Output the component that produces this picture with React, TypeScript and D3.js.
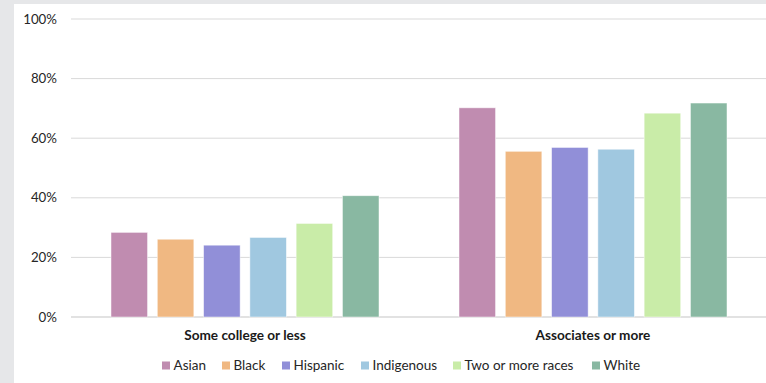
import React from "react";
import * as d3 from "d3";

const categories = ["Some college or less", "Associates or more"];
const seriesNames = ["Asian", "Black", "Hispanic", "Indigenous", "Two or more races", "White"];
const seriesColors = ["#c08cb0", "#f0b882", "#918fd8", "#a0c8e0", "#c9eca8", "#89b8a2"];
const asian = [28.4, 70.2];
const black = [26.1, 55.6];
const hispanic = [24.1, 56.9];
const indigenous = [26.7, 56.3];
const twoOrMore = [31.4, 68.4];
const white = [40.7, 71.8];
const seriesValues = [asian, black, hispanic, indigenous, twoOrMore, white];
const yTicks = [0, 20, 40, 60, 80, 100];

const W = 766;
const H = 383;
const FONT = "Lato, 'Open Sans', sans-serif";

export default function App() {
  const left = 71;
  const right = 767;
  const top = 19;
  const bottom = 317;

  const x0 = d3.scaleBand<string>().domain(categories).range([left, right]).paddingInner(0).paddingOuter(0);
  const x1 = d3
    .scaleBand<string>()
    .domain(seriesNames)
    .range([40, x0.bandwidth() - 40])
    .paddingInner(0.21)
    .paddingOuter(0);
  const y = d3.scaleLinear().domain([0, 100]).range([bottom, top]);

  const legendX = [162, 222, 282, 361, 453, 592];

  return (
    <svg
      width={W}
      height={H}
      style={{ position: "absolute", left: 0, top: 0, display: "block" }}
      fontFamily={FONT}
    >
      <rect x={0} y={0} width={W} height={H} fill="#e6e7e9" />
      <rect x={14} y={4} width={W - 14} height={H - 4} fill="#ffffff" />
      {yTicks.map((t) => (
        <g key={t}>
          <line
            x1={left}
            x2={right}
            y1={y(t)}
            y2={y(t)}
            stroke="#d9d9d9"
            strokeWidth={t === 0 ? 1.3 : 1}
          />
          <text x={57} y={y(t)} dy="0.35em" textAnchor="end" fontSize={13.3} fill="#262626">
            {t}%
          </text>
        </g>
      ))}
      {categories.map((c, ci) => (
        <g key={c}>
          {seriesNames.map((s, si) => {
            const v = seriesValues[si][ci];
            const bx = (x0(c) as number) + (x1(s) as number);
            return (
              <rect
                key={s}
                x={bx}
                y={y(v)}
                width={x1.bandwidth()}
                height={bottom - y(v)}
                fill={seriesColors[si]}
                stroke="#ffffff"
                strokeOpacity={0.6}
                strokeWidth={0.8}
              />
            );
          })}
          <text
            x={(x0(c) as number) + x0.bandwidth() / 2}
            y={335}
            dy="0.35em"
            textAnchor="middle"
            fontSize={13.6}
            fontWeight="bold"
            fill="#1a1a1a"
          >
            {c}
          </text>
        </g>
      ))}
      {seriesNames.map((s, si) => (
        <g key={s}>
          <rect x={legendX[si]} y={361.5} width={8} height={8} fill={seriesColors[si]} />
          <text x={legendX[si] + 11.5} y={365.7} dy="0.35em" fontSize={13.5} fill="#262626">
            {s}
          </text>
        </g>
      ))}
    </svg>
  );
}
